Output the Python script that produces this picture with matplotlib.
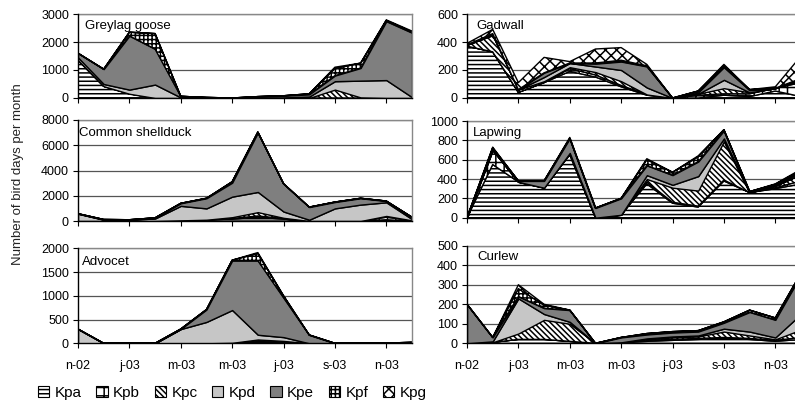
import numpy as np
import matplotlib
matplotlib.use("Agg")
import matplotlib.pyplot as plt
from matplotlib.patches import Patch

plt.rcParams['font.family'] = ['Liberation Sans', 'DejaVu Sans']
plt.rcParams['hatch.linewidth'] = 1.1

months = ["n-02", "d-02", "j-03", "f-03", "m-03", "a-03", "m-03", "j-03",
          "j-03", "a-03", "s-03", "o-03", "n-03", "d-03"]
tick_labels = ["n-02", "j-03", "m-03", "m-03", "j-03", "s-03", "n-03"]
series_names = ["Kpa", "Kpb", "Kpc", "Kpd", "Kpe", "Kpf", "Kpg"]

# Greylag goose
greylag_kpa = [1350, 420, 150, 0, 0, 0, 0, 0, 0, 0, 0, 0, 0, 0]
greylag_kpb = [0, 0, 0, 0, 0, 0, 0, 0, 0, 0, 0, 0, 0, 0]
greylag_kpc = [0, 0, 0, 0, 0, 0, 0, 0, 0, 0, 300, 20, 0, 0]
greylag_kpd = [100, 80, 150, 480, 20, 0, 0, 0, 20, 50, 300, 600, 640, 30]
greylag_kpe = [150, 530, 1920, 1270, 40, 20, 0, 50, 60, 80, 200, 450, 2100, 2300]
greylag_kpf = [0, 0, 130, 550, 0, 0, 0, 0, 0, 20, 250, 175, 30, 30]
greylag_kpg = [0, 0, 0, 0, 0, 0, 0, 0, 0, 0, 50, 0, 20, 30]

# Gadwall
gadwall_kpa = [370, 330, 40, 110, 190, 150, 80, 20, 0, 0, 20, 10, 50, 10]
gadwall_kpb = [0, 0, 0, 0, 20, 15, 10, 5, 0, 20, 10, 20, 20, 100]
gadwall_kpc = [10, 120, 20, 10, 10, 20, 30, 0, 0, 10, 40, 10, 0, 20]
gadwall_kpd = [0, 0, 0, 30, 30, 40, 80, 50, 0, 0, 60, 0, 0, 0]
gadwall_kpe = [0, 10, 0, 30, 0, 20, 60, 150, 0, 10, 90, 15, 0, 0]
gadwall_kpf = [0, 0, 0, 0, 0, 5, 10, 5, 0, 10, 10, 5, 0, 10]
gadwall_kpg = [10, 30, 50, 110, 10, 100, 90, 10, 0, 0, 10, 0, 10, 160]

# Common shellduck
shell_kpa = [0, 0, 0, 0, 50, 100, 150, 300, 150, 0, 0, 0, 100, 0]
shell_kpb = [0, 0, 0, 0, 0, 0, 50, 100, 50, 0, 0, 0, 200, 50]
shell_kpc = [0, 0, 0, 0, 0, 0, 100, 300, 50, 0, 0, 0, 100, 0]
shell_kpd = [580, 100, 100, 200, 1150, 900, 1630, 1600, 500, 100, 1000, 1300, 1080, 100]
shell_kpe = [0, 20, 0, 50, 200, 800, 1100, 4700, 2200, 1000, 500, 500, 100, 150]
shell_kpf = [0, 0, 0, 0, 0, 0, 80, 50, 0, 0, 0, 0, 0, 0]
shell_kpg = [0, 0, 0, 0, 0, 0, 0, 0, 0, 0, 0, 0, 0, 0]

# Lapwing
lap_kpa = [0, 550, 370, 310, 650, 0, 30, 350, 150, 110, 380, 260, 300, 350]
lap_kpb = [0, 150, 0, 0, 20, 0, 0, 20, 10, 10, 10, 0, 10, 30]
lap_kpc = [0, 0, 0, 0, 0, 0, 0, 30, 150, 160, 400, 0, 20, 70]
lap_kpd = [0, 0, 0, 0, 0, 0, 0, 40, 30, 150, 30, 0, 0, 0]
lap_kpe = [0, 20, 10, 70, 150, 100, 170, 100, 100, 150, 80, 10, 10, 20]
lap_kpf = [0, 0, 0, 0, 0, 0, 0, 60, 30, 50, 10, 0, 5, 20]
lap_kpg = [0, 10, 0, 0, 10, 0, 0, 10, 0, 10, 0, 0, 5, 10]

# Advocet
adv_kpa = [0, 0, 0, 0, 0, 0, 0, 20, 20, 0, 0, 0, 0, 0]
adv_kpb = [0, 0, 0, 0, 0, 0, 10, 30, 20, 0, 0, 0, 0, 0]
adv_kpc = [0, 0, 0, 0, 0, 0, 0, 30, 10, 0, 0, 0, 0, 0]
adv_kpd = [300, 0, 0, 0, 300, 450, 690, 100, 80, 0, 0, 0, 0, 0]
adv_kpe = [0, 0, 0, 0, 0, 260, 1040, 1560, 830, 175, 0, 0, 5, 20]
adv_kpf = [0, 0, 0, 0, 0, 0, 10, 150, 40, 0, 0, 0, 0, 0]
adv_kpg = [0, 0, 0, 0, 0, 0, 0, 20, 0, 0, 0, 0, 0, 0]

# Curlew
cur_kpa = [0, 5, 20, 20, 10, 0, 5, 10, 15, 20, 25, 20, 10, 20]
cur_kpb = [0, 0, 0, 0, 0, 0, 0, 5, 5, 5, 5, 5, 5, 10]
cur_kpc = [0, 0, 30, 100, 90, 0, 0, 5, 10, 10, 30, 15, 5, 40]
cur_kpd = [0, 5, 180, 30, 10, 0, 0, 5, 5, 5, 15, 20, 10, 80]
cur_kpe = [200, 20, 10, 30, 60, 0, 25, 20, 20, 20, 30, 100, 90, 200]
cur_kpf = [0, 0, 40, 15, 0, 0, 0, 5, 5, 5, 5, 10, 10, 10]
cur_kpg = [0, 0, 20, 5, 0, 0, 0, 0, 0, 0, 0, 0, 0, 0]

styles = [
    dict(facecolor="white", hatch="----"),
    dict(facecolor="white", hatch="++"),
    dict(facecolor="white", hatch="\\\\\\\\\\\\"),
    dict(facecolor="#c6c6c6", hatch=None),
    dict(facecolor="#7f7f7f", hatch=None),
    dict(facecolor="white", hatch="++++"),
    dict(facecolor="white", hatch="xxx"),
]

panels = [
    ("Greylag goose", [greylag_kpa, greylag_kpb, greylag_kpc, greylag_kpd, greylag_kpe, greylag_kpf, greylag_kpg],
     3000, 1000, (78, 14, 412, 98), 7, 6),
    ("Gadwall", [gadwall_kpa, gadwall_kpb, gadwall_kpc, gadwall_kpd, gadwall_kpe, gadwall_kpf, gadwall_kpg],
     600, 200, (467, 14, 801, 98), 9, 6),
    ("Common shellduck", [shell_kpa, shell_kpb, shell_kpc, shell_kpd, shell_kpe, shell_kpf, shell_kpg],
     8000, 2000, (78, 120, 412, 221), 1, 7),
    ("Lapwing", [lap_kpa, lap_kpb, lap_kpc, lap_kpd, lap_kpe, lap_kpf, lap_kpg],
     1000, 200, (467, 121, 801, 217.7), 6, 6),
    ("Advocet", [adv_kpa, adv_kpb, adv_kpc, adv_kpd, adv_kpe, adv_kpf, adv_kpg],
     2000, 500, (78, 248.3, 412, 343.3), 4, 8),
    ("Curlew", [cur_kpa, cur_kpb, cur_kpc, cur_kpd, cur_kpe, cur_kpf, cur_kpg],
     500, 100, (467, 245.7, 801, 343.3), 10, 5),
]

W, H = 795, 405
fig = plt.figure(figsize=(W / 100, H / 100), dpi=100)
x = np.arange(len(months))

for idx, (name, series, ymax, ystep, (x0, y0, x1, y1), tx, ty) in enumerate(panels):
    ax = fig.add_axes([x0 / W, 1 - y1 / H, (x1 - x0) / W, (y1 - y0) / H])
    base = np.zeros(len(months))
    for vals, st in zip(series, styles):
        top = base + np.array(vals, dtype=float)
        ax.fill_between(x, base, top, facecolor=st["facecolor"], hatch=st["hatch"],
                        edgecolor="black", linewidth=1.0, zorder=2)
        base = top
    ax.set_xlim(0, len(months) - 1)
    ax.set_ylim(0, ymax)
    ax.set_yticks(np.arange(0, ymax + 1, ystep))
    ax.set_xticks(np.arange(0, len(months), 2))
    if idx >= 4:
        ax.set_xticklabels(tick_labels)
    else:
        ax.set_xticklabels([])
    ax.grid(axis="y", color="#555555", linewidth=0.9, zorder=0)
    ax.set_axisbelow(True)
    for s in ("top", "right"):
        ax.spines[s].set_color("#888888")
        ax.spines[s].set_linewidth(1.0)
    for s in ("left", "bottom"):
        ax.spines[s].set_color("black")
        ax.spines[s].set_linewidth(1.0)
        ax.spines[s].set_zorder(3)
    ax.tick_params(axis="both", labelsize=9, length=3.5, width=0.8, colors="black")
    ax.tick_params(axis="y", pad=3)
    ax.tick_params(axis="x", pad=8.5)
    ax.annotate(name, xy=(0, 1), xycoords="axes fraction", xytext=(tx * 0.72, -ty * 0.72),
                textcoords="offset points", ha="left", va="top", fontsize=9.5, zorder=5)

fig.text(18 / W, 1 - 174 / H, "Number of bird days per month", rotation=90,
         ha="center", va="center", fontsize=9.5, color="#222222")

handles = [Patch(facecolor=st["facecolor"], hatch=st["hatch"], edgecolor="black", linewidth=0.8)
           for st in styles]
fig.legend(handles, series_names, loc="center left", bbox_to_anchor=(38 / W, 1 - 393 / H),
           ncol=7, frameon=False, fontsize=11, handlelength=0.75, handleheight=0.75,
           handletextpad=0.35, columnspacing=0.95, borderpad=0, borderaxespad=0)

fig.savefig("out.png", dpi=100)
